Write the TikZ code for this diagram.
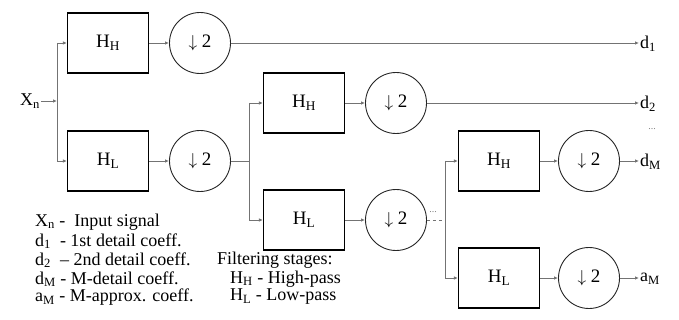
\documentclass[tikz,border=0pt]{standalone}
\usepackage{fontspec}
\setmainfont{Liberation Serif}
\usetikzlibrary{arrows.meta}
\begin{document}
\begin{tikzpicture}[x=1pt,y=-1pt,
 filt/.style={draw=black,line width=1.1pt,minimum width=81pt,minimum height=60pt,inner sep=0pt,font=\fontsize{19}{19}\selectfont},
 dsamp/.style={draw=black!85,line width=0.9pt,circle,minimum size=61pt,inner sep=0pt,font=\fontsize{19}{19}\selectfont},
 wire/.style={draw=black!55,line width=0.8pt},
 arr/.style={wire,-{Latex[length=4pt,width=3.5pt]}},
 lbl/.style={font=\fontsize{18}{18}\selectfont,inner sep=1pt},
 dots/.style={font=\fontsize{10}{10}\selectfont,text=black!50,inner sep=0pt},
 leg/.style={font=\fontsize{18}{18}\selectfont,anchor=west,inner sep=0pt}]
\useasboundingbox (0,0) rectangle (679,320);
% stage 1
\node[lbl,anchor=east] (xn) at (41,101) {X\textsubscript{n}};
\coordinate (s1) at (57,101);
\node[filt] (hh1) at (108,43) {H\textsubscript{H}};
\node[dsamp] (c1) at (200,43) {$\downarrow$ 2};
\node[filt] (hl1) at (108,161) {H\textsubscript{L}};
\node[dsamp] (c2) at (200,161) {$\downarrow$ 2};
% stage 2
\coordinate (s2) at (249,161);
\node[filt] (hh2) at (304,103) {H\textsubscript{H}};
\node[dsamp] (c3) at (396,103) {$\downarrow$ 2};
\node[filt] (hl2) at (304,220) {H\textsubscript{L}};
\node[dsamp] (c4) at (396,220) {$\downarrow$ 2};
% stage 3
\coordinate (s3) at (445,220);
\node[filt] (hh3) at (499,161) {H\textsubscript{H}};
\node[dsamp] (c5) at (589,161) {$\downarrow$ 2};
\node[filt] (hl3) at (499,278) {H\textsubscript{L}};
\node[dsamp] (c6) at (589,278) {$\downarrow$ 2};
% outputs
\node[lbl,anchor=west] (d1) at (639,44) {d\textsubscript{1}};
\node[lbl,anchor=west] (d2) at (639,104) {d\textsubscript{2}};
\node[lbl,anchor=west] (dM) at (639,162) {d\textsubscript{M}};
\node[lbl,anchor=west] (aM) at (639,279) {a\textsubscript{M}};
\node[dots] (dd1) at (652,129) {...};
\node[dots] (dd2) at (433,212) {...};
% wires
\draw[arr] (xn) -- (s1);
\draw[wire] (s1 |- hh1) -- (s1 |- hl1);
\draw[arr] (s1 |- hh1) -- (hh1);
\draw[arr] (s1 |- hl1) -- (hl1);
\draw[arr] (hh1) -- (c1);
\draw[arr] (hl1) -- (c2);
\draw[arr] (c1) -- (d1.west |- c1);
\draw[wire] (c2) -- (s2);
\draw[wire] (s2 |- hh2) -- (s2 |- hl2);
\draw[arr] (s2 |- hh2) -- (hh2);
\draw[arr] (s2 |- hl2) -- (hl2);
\draw[arr] (hh2) -- (c3);
\draw[arr] (hl2) -- (c4);
\draw[arr] (c3) -- (d2.west |- c3);
\draw[wire,dashed] (c4) -- (s3);
\draw[wire] (s3 |- hh3) -- (s3 |- hl3);
\draw[arr] (s3 |- hh3) -- (hh3);
\draw[arr] (s3 |- hl3) -- (hl3);
\draw[arr] (hh3) -- (c5);
\draw[arr] (hl3) -- (c6);
\draw[arr] (c5) -- (dM.west |- c5);
\draw[arr] (c6) -- (aM.west |- c6);
% legend
\node[leg] (l1) at (35,222) {X\textsubscript{n} -\ \ Input signal};
\node[leg] (l2) at (35,241) {d\textsubscript{1}\ \ - 1st detail coeff.};
\node[leg] (l3) at (35,260) {d\textsubscript{2}\ \ -- 2nd detail coeff.};
\node[leg] (l4) at (35,279) {d\textsubscript{M} - M-detail coeff.};
\node[leg] (l5) at (35,297) {a\textsubscript{M} - M-approx. coeff.};
\node[leg] (f1) at (217,260) {Filtering stages:};
\node[leg] (f2) at (230,279) {H\textsubscript{H} - High-pass};
\node[leg] (f3) at (230,297) {H\textsubscript{L} - Low-pass};
\end{tikzpicture}
\end{document}
